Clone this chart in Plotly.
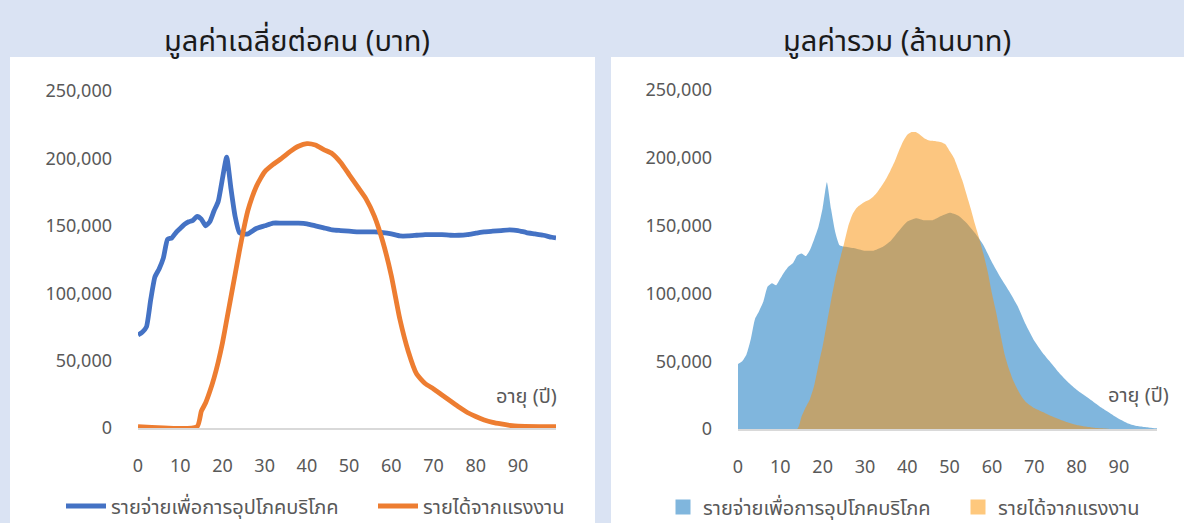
import plotly.graph_objects as go

# ---------------- data ----------------
# Per-person values (baht)
pc_cons_age = [0, 1, 2, 3, 4, 5, 6, 7, 8, 9, 10, 11, 12, 13, 14, 15, 16, 17, 18, 19, 20,
               21, 22, 23, 24, 25, 26, 28, 30, 32, 34, 36, 38, 40, 42, 44, 46, 48, 50,
               52, 54, 56, 58, 60, 62, 64, 66, 68, 70, 72, 74, 76, 78, 80, 82, 84, 86,
               88, 90, 92, 94, 96, 98, 99]
pc_cons_val = [69000, 71000, 75000, 95000, 112000, 118000, 126000, 140000, 141000, 145000,
               148000, 151000, 153000, 154000, 157000, 155000, 150000, 153000, 161000,
               168000, 185000, 201000, 178000, 157000, 145000, 144000, 144000, 148000,
               150000, 152000, 152000, 152000, 152000, 151500, 150000, 148500, 147000,
               146500, 146000, 145500, 145500, 145500, 145000, 144000, 142500, 142500,
               143000, 143500, 143500, 143500, 143000, 143000, 143500, 144500, 145500,
               146000, 146500, 147000, 146500, 145000, 144000, 143000, 141500, 141000]

pc_inc_age = [0, 14, 15, 16, 17, 18, 19, 20, 21, 22, 23, 24, 25, 26, 27, 28, 29, 30, 32, 34,
              36, 38, 40, 42, 44, 46, 48, 50, 52, 54, 56, 58, 60, 62, 64, 66, 68, 70, 72,
              74, 76, 78, 80, 82, 84, 86, 88, 90, 95, 99]
pc_inc_val = [1000, 1000, 12500, 18500, 27000, 37000, 49000, 63000, 80000, 97000, 114000,
              131000, 147000, 161000, 171000, 179000, 185000, 190000, 195500, 200000,
              205000, 209000, 211000, 210000, 206500, 203500, 197000, 188000, 179000,
              170000, 157000, 138000, 113000, 81000, 57000, 40000, 33000, 29000, 24500,
              20000, 15500, 11500, 8500, 6000, 4200, 3000, 2000, 1300, 1000, 1000]

# Aggregate values (million baht)
tot_cons_age = [0, 1, 2, 3, 4, 5, 6, 7, 8, 9, 10, 11, 12, 13, 14, 15, 16, 17, 18, 19, 20,
                21, 22, 23, 24, 25, 26, 28, 30, 32, 34, 36, 38, 40, 42, 44, 46, 48, 50,
                52, 54, 56, 58, 60, 62, 64, 66, 68, 70, 72, 74, 76, 78, 80, 82, 84, 86,
                88, 90, 92, 94, 96, 98, 99]
tot_cons_val = [48000, 50000, 55000, 66000, 81000, 87000, 94000, 105000, 107500, 106000,
                111000, 116000, 120000, 122500, 128000, 129500, 127500, 132000, 140000,
                149000, 163000, 182000, 162000, 145000, 135500, 134500, 134000, 133000,
                131500, 131500, 134000, 138500, 146000, 153000, 155500, 154000, 154000,
                157000, 159500, 157500, 152000, 144500, 135500, 123000, 112000, 102000,
                91000, 77000, 65000, 56000, 48500, 41000, 34500, 29000, 24500, 20000,
                15500, 11500, 7500, 4300, 2400, 1500, 800, 500]

tot_inc_age = [0, 14, 15, 16, 17, 18, 19, 20, 21, 22, 23, 24, 25, 26, 27, 28, 29, 30, 31,
               32, 33, 34, 35, 36, 37, 38, 39, 40, 41, 42, 43, 44, 45, 46, 47, 48, 49, 50,
               51, 52, 53, 54, 55, 56, 57, 58, 59, 60, 61, 62, 63, 64, 65, 66, 67, 68, 70,
               72, 74, 76, 78, 80, 82, 84, 86, 88, 99]
tot_inc_val = [0, 0, 9000, 16000, 22000, 32000, 47000, 61000, 78000, 95000, 111000, 124000,
               136000, 149000, 158000, 163000, 165500, 167500, 169000, 171500, 175000,
               179500, 184500, 190500, 197000, 205000, 212000, 217000, 219000, 219000,
               217000, 214500, 213000, 212500, 212000, 211500, 210000, 205000, 200000,
               192000, 183500, 173000, 162500, 151000, 140500, 129000, 116000, 100000,
               86000, 70000, 55000, 44500, 36000, 29500, 24000, 20000, 15500, 12500, 9500,
               7000, 4800, 3000, 1800, 1000, 500, 0, 0]

x_ticks = [0, 10, 20, 30, 40, 50, 60, 70, 80, 90]
y_ticks = [0, 50000, 100000, 150000, 200000, 250000]

title_left = "มูลค่าเฉลี่ยต่อคน (บาท)"
title_right = "มูลค่ารวม (ล้านบาท)"
name_cons = "รายจ่ายเพื่อการอุปโภคบริโภค"
name_inc = "รายได้จากแรงงาน"
axis_note = "อายุ (ปี)"

# ---------------- layout helpers ----------------
W, H = 1184, 523
FONT = "Tahoma, 'Leelawadee UI', 'Noto Sans Thai', 'Noto Sans', sans-serif"
GREY = "#595959"


def px(x):
    return x / W


def py(y):
    return 1 - y / H


fig = go.Figure()

# left: per-person lines
fig.add_trace(go.Scatter(x=pc_cons_age, y=pc_cons_val, mode="lines", name=name_cons,
                         line=dict(color="#4472C4", width=4.8, shape="spline", smoothing=0.5),
                         xaxis="x", yaxis="y", legend="legend", hoverinfo="skip"))
fig.add_trace(go.Scatter(x=pc_inc_age, y=pc_inc_val, mode="lines", name=name_inc,
                         line=dict(color="#ED7D31", width=4.8, shape="spline", smoothing=0.5),
                         xaxis="x", yaxis="y", legend="legend", hoverinfo="skip"))

# right: aggregate areas
BLUE_FILL = "rgb(128,182,221)"
ORANGE_FILL = "rgba(250,146,12,0.52)"
fig.add_trace(go.Scatter(x=tot_cons_age, y=tot_cons_val, mode="lines", fill="tozeroy",
                         fillcolor=BLUE_FILL, line=dict(width=0, shape="spline", smoothing=0.5),
                         xaxis="x2", yaxis="y2", showlegend=False, hoverinfo="skip"))
fig.add_trace(go.Scatter(x=tot_inc_age, y=tot_inc_val, mode="lines", fill="tozeroy",
                         fillcolor=ORANGE_FILL, line=dict(width=0, shape="spline", smoothing=0.5),
                         xaxis="x2", yaxis="y2", showlegend=False, hoverinfo="skip"))
# legend entries for the areas
fig.add_trace(go.Scatter(x=[None], y=[None], mode="markers", name=name_cons,
                         marker=dict(symbol="square", size=15, color=BLUE_FILL),
                         xaxis="x2", yaxis="y2", legend="legend2"))
fig.add_trace(go.Scatter(x=[None], y=[None], mode="markers", name=name_inc,
                         marker=dict(symbol="square", size=15, color="rgb(254,200,125)"),
                         xaxis="x2", yaxis="y2", legend="legend2"))

xcommon = dict(range=[0, 99], tickvals=x_ticks, showgrid=False, zeroline=False,
               showline=True, linecolor="#D9D9D9", linewidth=1.5, ticks="",
               tickfont=dict(size=18, color=GREY, family=FONT), ticklabelstandoff=21,
               fixedrange=True, automargin=False)
ycommon = dict(range=[0, 250000], tickvals=y_ticks, tickformat=",", showgrid=False,
               zeroline=False, showline=False, ticks="",
               tickfont=dict(size=18, color=GREY, family=FONT), ticklabelstandoff=25,
               fixedrange=True, automargin=False)

fig.update_layout(
    width=W, height=H,
    margin=dict(l=0, r=0, t=0, b=0, pad=0, autoexpand=False),
    paper_bgcolor="#DAE3F3",
    plot_bgcolor="rgba(0,0,0,0)",
    font=dict(family=FONT, color=GREY),
    xaxis=dict(domain=[px(138), px(556)], anchor="y", **xcommon),
    yaxis=dict(domain=[py(428), py(91)], anchor="x", **ycommon),
    xaxis2=dict(domain=[px(738), px(1157)], anchor="y2", **xcommon),
    yaxis2=dict(domain=[py(429), py(90)], anchor="x2", **ycommon),
    legend=dict(orientation="h", x=px(61), y=py(506), xanchor="left", yanchor="middle",
                font=dict(size=20, color=GREY, family=FONT), bgcolor="rgba(0,0,0,0)",
                entrywidth=257, entrywidthmode="pixels", itemwidth=40),
    legend2=dict(orientation="h", x=px(663), y=py(507), xanchor="left", yanchor="middle",
                 font=dict(size=20, color=GREY, family=FONT), bgcolor="rgba(0,0,0,0)",
                 entrywidth=250, entrywidthmode="pixels", itemwidth=30),
    shapes=[
        dict(type="rect", xref="paper", yref="paper", x0=px(10), x1=px(595), y0=0, y1=py(57),
             fillcolor="white", line=dict(width=0), layer="below"),
        dict(type="rect", xref="paper", yref="paper", x0=px(611), x1=1, y0=0, y1=py(57),
             fillcolor="white", line=dict(width=0), layer="below"),
    ],
    annotations=[
        dict(text=title_left, x=px(297), y=py(42), xref="paper", yref="paper",
             xanchor="center", yanchor="middle",
             showarrow=False, font=dict(size=29, color="#1A1A1A", family=FONT)),
        dict(text=title_right, x=px(897), y=py(42), xref="paper", yref="paper",
             xanchor="center", yanchor="middle",
             showarrow=False, font=dict(size=29, color="#1A1A1A", family=FONT)),
        dict(text=axis_note, x=px(559), y=py(397), xref="paper", yref="paper",
             xanchor="right", yanchor="middle", showarrow=False,
             font=dict(size=20, color=GREY, family=FONT)),
        dict(text=axis_note, x=px(1171), y=py(396), xref="paper", yref="paper",
             xanchor="right", yanchor="middle", showarrow=False,
             font=dict(size=20, color=GREY, family=FONT)),
    ],
)

fig.write_html("out.html", config={"displayModeBar": False},
               post_script="document.body.style.margin='0';document.body.style.overflow='hidden';")
